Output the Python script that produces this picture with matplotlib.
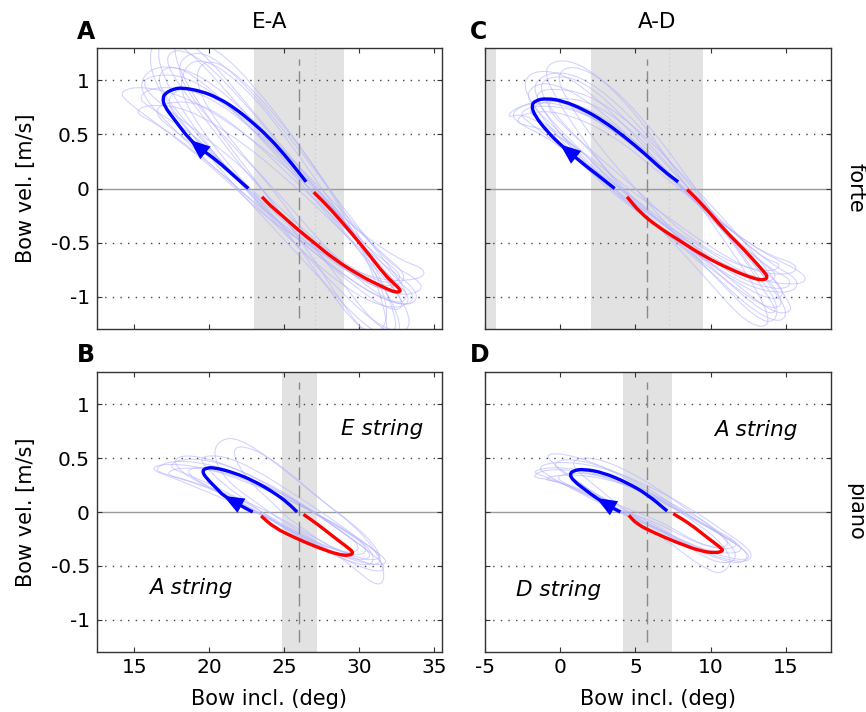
import matplotlib
matplotlib.use("Agg")
import matplotlib.pyplot as plt
from matplotlib.path import Path
from matplotlib.patches import PathPatch

plt.rcParams['font.family'] = ['DejaVu Sans']

# ---------------- data ----------------
yticks = [-1, -0.5, 0, 0.5, 1]
ytick_labels = ['-1', '-0.5', '0', '0.5', '1']
grid_levels = [-1, -0.5, 0.5, 1]
xticks_EA = [15, 20, 25, 30, 35]
xticks_AD = [-5, 0, 5, 10, 15]
xlim_EA = (12.5, 35.5)
xlim_AD = (-5, 18)
ylim = (-1.3, 1.3)

# shaded ranges, dashed (mean) and dotted positions
shade_A = [(23.0, 29.0)]
shade_C = [(-5.0, -4.3), (2.05, 9.5)]
shade_B = [(24.85, 27.2)]
shade_D = [(4.2, 7.4)]
dash_A, dot_A = 26.0, 27.05
dash_C, dot_C = 5.8, 7.2
dash_B = 26.0
dash_D = 5.8

# mean trajectories: blue (upper, with arrow) and red (lower)
blue_A = [(22.6, 0.0), (21.67, 0.114), (20.56, 0.253), (19.6, 0.35), (18.7, 0.45),
          (17.67, 0.639), (17.0, 0.762), (16.89, 0.84), (17.11, 0.886), (17.67, 0.923),
          (18.22, 0.932), (19.45, 0.901), (20.56, 0.84), (21.67, 0.747), (22.78, 0.623),
          (23.89, 0.485), (25.0, 0.315), (25.89, 0.16), (26.45, 0.062)]
red_A = [(26.96, -0.034), (28.11, -0.194), (29.45, -0.41), (30.56, -0.596), (31.67, -0.796),
         (32.3, -0.88), (32.65, -0.925), (32.75, -0.955), (32.33, -0.96), (31.45, -0.904), (30.11, -0.812),
         (28.34, -0.657), (27.0, -0.503), (25.89, -0.38), (24.78, -0.241), (24.11, -0.164),
         (23.51, -0.077)]
blue_C = [(3.62, 0.0), (2.44, 0.13), (1.6, 0.22), (0.75, 0.32), (0.0, 0.407),
          (-0.89, 0.531), (-1.67, 0.67), (-1.92, 0.762), (-1.67, 0.815), (-0.89, 0.835),
          (0.22, 0.809), (1.56, 0.731), (2.89, 0.623), (4.22, 0.485), (5.56, 0.33),
          (6.89, 0.16), (7.84, 0.062)]
red_C = [(8.44, -0.009), (9.56, -0.164), (10.89, -0.38), (12.22, -0.565), (13.22, -0.719),
         (13.6, -0.78), (13.8, -0.82), (13.56, -0.848), (12.89, -0.836), (11.33, -0.75), (9.56, -0.627),
         (8.0, -0.488), (6.44, -0.349), (5.33, -0.225), (4.44, -0.077)]
blue_B = [(22.89, 0.0), (22.2, 0.05), (20.95, 0.15), (20.56, 0.209), (19.78, 0.317),
          (19.52, 0.378), (19.78, 0.408), (20.34, 0.412), (21.67, 0.363), (23.0, 0.286),
          (24.33, 0.178), (25.22, 0.086), (25.85, 0.0)]
red_B = [(26.27, -0.022), (27.22, -0.114), (28.34, -0.237), (29.22, -0.329), (29.62, -0.375),
         (29.34, -0.405), (28.56, -0.394), (27.22, -0.329), (25.67, -0.237), (24.33, -0.145),
         (23.45, -0.037)]
blue_D = [(4.0, 0.0), (3.3, 0.05), (2.4, 0.13), (1.78, 0.194), (0.89, 0.287),
          (0.62, 0.349), (0.89, 0.385), (1.56, 0.398), (2.89, 0.364), (4.44, 0.272),
          (5.78, 0.164), (7.11, 0.009)]
red_D = [(7.51, -0.015), (8.67, -0.114), (9.78, -0.238), (10.67, -0.33), (10.85, -0.361),
         (10.33, -0.38), (9.33, -0.363), (7.78, -0.284), (6.22, -0.191), (5.11, -0.114),
         (4.56, -0.031)]
# index of the arrow tip on each blue curve (arrow direction from the first point)
arrow_idx = {'A': 4, 'B': 2, 'C': 4, 'D': 2}

# individual (faint) trajectories, closed loops
faint_A = [
    [(22.5, 0), (19.5, 0.45), (17.0, 0.85), (16.5, 1.05), (17.5, 1.15), (19.5, 1.0), (22.5, 0.6), (25.5, 0.15),
     (28.5, -0.35), (31.5, -0.8), (33.0, -1.05), (32.5, -1.15), (30.5, -1.0), (27.5, -0.65), (24.5, -0.3)],
    [(22, 0.05), (19, 0.55), (16.8, 1.05), (16.5, 1.35), (17.8, 1.45), (20, 1.2), (23, 0.7), (26, 0.2),
     (29, -0.3), (32, -0.85), (33.5, -1.2), (33, -1.35), (31, -1.25), (28, -0.85), (25, -0.4)],
    [(21, 0.1), (17.5, 0.5), (14.5, 0.8), (14.0, 0.9), (15.5, 0.95), (18.5, 0.85), (22, 0.55), (26, 0.1),
     (29.5, -0.35), (32.5, -0.65), (34.5, -0.75), (34, -0.85), (31, -0.85), (27.5, -0.6), (24, -0.3)],
    [(23, -0.05), (20.5, 0.35), (18.5, 0.75), (18, 1.0), (18.8, 1.2), (20.5, 1.15), (23, 0.85), (25.5, 0.4),
     (28, -0.1), (30.5, -0.6), (32, -1.1), (31.5, -1.35), (30, -1.3), (28, -0.95), (25.5, -0.45)],
    [(21.5, 0.15), (19, 0.5), (16, 0.75), (15.2, 0.85), (16.5, 0.95), (19.5, 0.9), (23, 0.55), (27, 0.0),
     (30, -0.45), (32.5, -0.85), (33.8, -1.0), (33, -1.1), (30.5, -0.95), (27, -0.6), (24, -0.25)],
    [(23.5, 0), (21, 0.45), (18.5, 0.95), (17.5, 1.3), (18.2, 1.4), (20.5, 1.3), (23, 0.95), (25.5, 0.5),
     (28, 0.0), (30, -0.5), (31.5, -1.0), (32, -1.4), (31, -1.45), (29, -1.1), (26.5, -0.55)],
    [(22, 0.1), (19.5, 0.4), (17.5, 0.7), (17.2, 0.85), (18.5, 0.95), (21, 0.8), (24, 0.4), (27, -0.05),
     (30, -0.5), (32, -0.8), (32.5, -0.9), (31.5, -0.95), (29, -0.75), (26, -0.4), (23.5, -0.1)],
    [(24, 0.05), (21.5, 0.4), (19, 0.8), (17.8, 1.1), (18.5, 1.25), (20, 1.25), (22.5, 0.95), (25.5, 0.45),
     (28.5, -0.1), (31, -0.55), (33, -0.9), (33.2, -1.05), (32, -1.05), (29.5, -0.8), (26.5, -0.35)],
    [(22.5, 0), (20, 0.3), (17.5, 0.55), (16.3, 0.7), (17, 0.8), (19.5, 0.8), (22.5, 0.5), (25.5, 0.1),
     (28.5, -0.3), (31.5, -0.7), (34, -0.95), (33.5, -1.1), (31, -1.0), (28, -0.7), (25, -0.3)],
    [(21.5, 0.05), (18.5, 0.55), (16.2, 1.0), (16.0, 1.3), (16.8, 1.4), (18.5, 1.3), (21.5, 0.85), (24.5, 0.35),
     (27.5, -0.15), (30.5, -0.65), (32.8, -1.2), (32.5, -1.4), (30.5, -1.3), (27.5, -0.85), (24.5, -0.4)],
    [(23, 0.1), (20, 0.45), (17, 0.75), (15.5, 0.95), (16, 1.05), (18.5, 1.05), (21.5, 0.75), (25, 0.3),
     (28.5, -0.2), (31.5, -0.6), (33.2, -0.8), (32.5, -0.92), (30, -0.85), (27, -0.55), (24.5, -0.2)],
    [(24.5, -0.05), (22, 0.35), (19.8, 0.75), (19, 1.05), (19.8, 1.2), (21.5, 1.1), (24, 0.75), (26.5, 0.3),
     (29, -0.2), (31, -0.7), (32.5, -1.2), (32.3, -1.35), (31, -1.25), (29, -0.9), (26.5, -0.45)],
    [(22, 0.0), (19, 0.35), (16.5, 0.6), (15.0, 0.7), (15.8, 0.78), (18.5, 0.75), (22, 0.45), (25.5, 0.05),
     (28.5, -0.35), (31.5, -0.75), (33.5, -1.0), (32.8, -1.12), (30.5, -1.05), (27.5, -0.75), (24.5, -0.35)],
    [(23, 0.05), (20.5, 0.5), (18, 0.95), (17, 1.2), (17.8, 1.3), (19.5, 1.2), (22, 0.85), (25, 0.35),
     (28, -0.15), (30.5, -0.55), (32.5, -0.75), (32.8, -0.85), (31.5, -0.88), (29, -0.7), (26, -0.35)],
    [(21, 0.1), (18, 0.5), (15.5, 0.85), (15.5, 1.05), (17, 1.15), (19.5, 1.05), (22.5, 0.7), (26, 0.2),
     (29.5, -0.3), (32, -0.7), (34, -0.85), (34.2, -0.95), (32.5, -1.0), (29.5, -0.8), (25, -0.35)],
]
faint_C = [
    [(3.5, 0), (0.5, 0.45), (-1.8, 0.75), (-2.3, 0.9), (-1.0, 1.0), (1.5, 0.85), (4.5, 0.5), (7.5, 0.1),
     (10.5, -0.35), (13.5, -0.75), (15.0, -0.95), (14.3, -1.05), (12, -0.9), (9, -0.6), (6, -0.3)],
    [(3, 0.05), (0, 0.5), (-2.5, 0.7), (-3.6, 0.65), (-3, 0.75), (-0.5, 0.85), (3, 0.6), (6.5, 0.2),
     (10, -0.25), (13.5, -0.6), (16.5, -0.8), (16, -0.9), (13, -0.85), (9.5, -0.55), (6, -0.25)],
    [(4, 0), (1.5, 0.45), (-0.8, 0.95), (-1, 1.15), (0.5, 1.2), (2.5, 1.05), (5, 0.7), (7.5, 0.2),
     (10, -0.3), (12.5, -0.8), (14, -1.2), (13.5, -1.3), (12, -1.2), (9.5, -0.8), (6.5, -0.35)],
    [(3, 0.1), (0.5, 0.35), (-2, 0.6), (-2.8, 0.7), (-1.5, 0.78), (1.5, 0.72), (5, 0.4), (8.5, -0.05),
     (11.5, -0.45), (14, -0.75), (15.5, -0.85), (14.8, -0.95), (12, -0.85), (9, -0.55), (6, -0.2)],
    [(4.5, -0.05), (2, 0.35), (-0.5, 0.7), (-1.5, 0.95), (-0.5, 1.05), (1.5, 1.0), (4, 0.7), (7, 0.25),
     (9.5, -0.15), (12, -0.6), (13.8, -1.0), (14.5, -1.15), (13.5, -1.15), (11, -0.85), (7.5, -0.4)],
    [(3.5, 0.05), (1, 0.4), (-1.5, 0.65), (-2.2, 0.72), (-1, 0.82), (1.5, 0.78), (4.5, 0.5), (8, 0.05),
     (11, -0.4), (13.5, -0.7), (14.5, -0.8), (13.8, -0.88), (11.5, -0.75), (8.5, -0.5), (5.5, -0.2)],
    [(2.5, 0.1), (0, 0.5), (-1.5, 0.8), (-1.8, 1.0), (0, 1.1), (2.5, 0.95), (5.5, 0.55), (8.5, 0.05),
     (11.5, -0.45), (14, -0.9), (15.2, -1.15), (14.5, -1.25), (12.5, -1.1), (9.5, -0.7), (5.5, -0.25)],
    [(5, 0), (2.5, 0.3), (0, 0.6), (-1, 0.78), (0, 0.85), (2.5, 0.78), (5.5, 0.45), (8.5, 0.0),
     (11.5, -0.4), (13.5, -0.65), (14.8, -0.7), (14, -0.78), (11.5, -0.7), (8.5, -0.45), (6.5, -0.2)],
    [(3, 0), (0, 0.45), (-2, 0.8), (-2.5, 1.0), (-1.5, 1.1), (0.5, 1.05), (3.5, 0.7), (6.5, 0.25),
     (9.5, -0.2), (12.5, -0.65), (14.5, -0.95), (14.8, -1.1), (13.5, -1.1), (10.5, -0.8), (6.5, -0.35)],
    [(4, 0.05), (1.5, 0.35), (-1, 0.55), (-3, 0.6), (-2.5, 0.7), (0, 0.72), (3.5, 0.5), (7, 0.1),
     (10.5, -0.3), (13.5, -0.6), (15.8, -0.7), (15.5, -0.8), (13, -0.78), (10, -0.55), (6.5, -0.2)],
    [(5, 0), (2.5, 0.4), (0.5, 0.8), (-0.3, 1.05), (0.8, 1.15), (3, 1.0), (5.5, 0.65), (8, 0.2),
     (10.5, -0.3), (12.8, -0.75), (14.5, -1.05), (14.3, -1.25), (13, -1.2), (10.5, -0.85), (7.5, -0.4)],
    [(2.5, 0.1), (-0.5, 0.45), (-2.8, 0.6), (-3.3, 0.7), (-2, 0.8), (0.5, 0.78), (4, 0.5), (7.5, 0.1),
     (11, -0.35), (14, -0.7), (16, -0.85), (15.3, -0.98), (12.5, -0.92), (9, -0.6), (5.5, -0.25)],
    [(4, 0.0), (1, 0.4), (-1.2, 0.72), (-1.7, 0.88), (-0.6, 0.93), (1.8, 0.88), (4.8, 0.6), (8, 0.15),
     (11, -0.3), (13.5, -0.7), (15, -1.0), (15.5, -1.15), (14, -1.15), (11, -0.8), (7, -0.35)],
]
faint_B = [
    [(23, 0.0), (20, 0.18), (17.5, 0.32), (16.0, 0.4), (17, 0.45), (19.5, 0.42), (22.5, 0.28), (25.5, 0.1),
     (28.5, -0.12), (31, -0.35), (32, -0.47), (31, -0.5), (28.5, -0.4), (26, -0.22), (24.5, -0.1)],
    [(23.5, 0.05), (21, 0.3), (20.2, 0.55), (20.8, 0.68), (22, 0.68), (24, 0.5), (26.5, 0.22), (28.5, 0.0),
     (30.2, -0.2), (31.5, -0.45), (31.7, -0.65), (31, -0.68), (29.5, -0.5), (27.5, -0.3), (25, -0.1)],
    [(22.5, 0.05), (20, 0.22), (18, 0.38), (17.6, 0.5), (18.8, 0.53), (21, 0.45), (24, 0.25), (27, 0.0),
     (29.5, -0.25), (30.8, -0.38), (30.5, -0.45), (29, -0.42), (27, -0.3), (25, -0.15), (23.5, -0.02)],
    [(24, 0.0), (21.5, 0.15), (18.5, 0.3), (17, 0.35), (18, 0.42), (21, 0.38), (24, 0.2), (27, 0.0),
     (29.5, -0.2), (31, -0.35), (31.5, -0.43), (30.5, -0.45), (28.5, -0.35), (26.5, -0.2), (25, -0.08)],
    [(23, 0.05), (21, 0.25), (19.5, 0.45), (19.5, 0.52), (21, 0.52), (23, 0.4), (25.5, 0.18), (28, -0.05),
     (30, -0.25), (31, -0.4), (30.8, -0.5), (29.5, -0.47), (27.5, -0.35), (25.5, -0.2), (24, -0.05)],
    [(22, 0.1), (19.5, 0.25), (17, 0.35), (16.3, 0.4), (17.5, 0.48), (20, 0.45), (23, 0.3), (26, 0.08),
     (28.5, -0.15), (30, -0.3), (29.8, -0.38), (28.5, -0.36), (26.5, -0.25), (24.5, -0.1), (23, 0.02)],
    [(23.5, 0.0), (21, 0.2), (18.5, 0.35), (17.2, 0.42), (18.2, 0.5), (20.5, 0.47), (23.5, 0.3), (26.5, 0.05),
     (29, -0.2), (31, -0.4), (31.8, -0.52), (31.2, -0.56), (29.5, -0.48), (27.5, -0.32), (25, -0.12)],
    [(22.8, 0.02), (20.5, 0.2), (18.8, 0.32), (18.5, 0.4), (19.8, 0.42), (22, 0.35), (24.5, 0.2), (27, 0.0),
     (29.3, -0.2), (30.5, -0.32), (30.3, -0.4), (29, -0.38), (27, -0.27), (25, -0.13), (23.8, -0.04)],
    [(24.5, 0.05), (22.5, 0.3), (21.5, 0.55), (22, 0.62), (23.5, 0.55), (25.5, 0.35), (27.5, 0.1), (29.5, -0.1),
     (31, -0.3), (31.5, -0.45), (31, -0.5), (29.5, -0.42), (27.5, -0.28), (26, -0.13), (25, -0.03)],
]
faint_D = [
    [(4, 0), (1.5, 0.18), (-0.5, 0.3), (-2.0, 0.32), (-1, 0.4), (1.5, 0.38), (4.5, 0.25), (7.5, 0.05),
     (10, -0.15), (12, -0.32), (12.7, -0.42), (12, -0.45), (10, -0.38), (8, -0.25), (5.5, -0.1)],
    [(3.5, 0.05), (1, 0.3), (-0.8, 0.48), (-0.8, 0.55), (1, 0.52), (3.5, 0.38), (6, 0.18), (8.5, -0.05),
     (10.5, -0.25), (11.5, -0.45), (10.8, -0.57), (10, -0.55), (8.5, -0.42), (7, -0.25), (5, -0.08)],
    [(4.5, 0.0), (2, 0.2), (0, 0.38), (-0.5, 0.45), (0.5, 0.5), (3, 0.42), (5.5, 0.25), (8, 0.02),
     (10.5, -0.2), (12.3, -0.35), (12.5, -0.45), (11.5, -0.48), (9.5, -0.38), (7.5, -0.22), (5.8, -0.08)],
    [(3, 0.1), (0.5, 0.25), (-1.5, 0.35), (-1.8, 0.38), (-0.5, 0.42), (2, 0.38), (5, 0.22), (8, 0.0),
     (10.5, -0.2), (12, -0.3), (12, -0.38), (10.5, -0.38), (8.5, -0.3), (6.5, -0.15), (4.5, -0.02)],
    [(4, 0.05), (2, 0.28), (0.8, 0.42), (1, 0.5), (2.5, 0.5), (5, 0.35), (7.5, 0.12), (9.5, -0.08),
     (11, -0.25), (11.8, -0.4), (11.3, -0.48), (10, -0.45), (8.5, -0.32), (6.8, -0.18), (5, -0.05)],
    [(5, 0.0), (2.5, 0.15), (0, 0.28), (-1.2, 0.3), (0, 0.35), (2.5, 0.33), (5.5, 0.2), (8, 0.02),
     (10, -0.15), (11.5, -0.25), (11.8, -0.32), (10.8, -0.35), (9, -0.28), (7.5, -0.15), (6, -0.05)],
    [(3.5, 0.02), (1, 0.2), (-1, 0.35), (-1.5, 0.42), (-0.2, 0.47), (2.5, 0.43), (5.5, 0.27), (8.5, 0.05),
     (10.8, -0.17), (12.5, -0.33), (12.8, -0.43), (12, -0.47), (10, -0.4), (7.8, -0.26), (5.5, -0.1)],
    [(4.2, 0.0), (2, 0.15), (0.2, 0.27), (-0.3, 0.33), (1, 0.37), (3.5, 0.32), (6, 0.18), (8.5, 0.0),
     (10.3, -0.15), (11.2, -0.27), (11, -0.33), (10, -0.33), (8.5, -0.25), (7, -0.14), (5.5, -0.05)],
]

string_labels_B = [('E string', 28.8, 0.71), ('A string', 16.0, -0.76)]
string_labels_D = [('A string', 10.2, 0.70), ('D string', -2.93, -0.78)]

# ---------------- figure ----------------
W, H = 866, 712
fig = plt.figure(figsize=(W / 100, H / 100), dpi=100)

def rect(l, t, r, b):
    return [l / W, 1 - b / H, (r - l) / W, (b - t) / H]

axA = fig.add_axes(rect(96.7, 48, 442, 329))
axC = fig.add_axes(rect(485, 48, 831, 329))
axB = fig.add_axes(rect(96.7, 371.7, 442, 652.3))
axD = fig.add_axes(rect(485, 371.7, 831, 652.3))

faint_col = (0.70, 0.70, 1.0)
tick_fs = 14.5


def mid(p, q):
    return ((p[0] + q[0]) / 2, (p[1] + q[1]) / 2)


def smooth_loop(ax, loop, **kw):
    """Closed loop rendered as quadratic Bezier segments with the points as control polygon."""
    n = len(loop)
    mids = [mid(loop[i], loop[(i + 1) % n]) for i in range(n)]
    verts = [mids[-1]]
    codes = [Path.MOVETO]
    for i in range(n):
        verts += [loop[i], mids[i]]
        codes += [Path.CURVE3, Path.CURVE3]
    ax.add_patch(PathPatch(Path(verts, codes), fill=False, **kw))


def smooth_open(ax, pts, **kw):
    """Open curve rendered as quadratic Bezier segments, keeping both end points."""
    n = len(pts)
    verts = [pts[0], mid(pts[0], pts[1])]
    codes = [Path.MOVETO, Path.LINETO]
    for i in range(1, n - 1):
        verts += [pts[i], mid(pts[i], pts[i + 1])]
        codes += [Path.CURVE3, Path.CURVE3]
    verts.append(pts[-1])
    codes.append(Path.LINETO)
    ax.add_patch(PathPatch(Path(verts, codes), fill=False, capstyle='butt', joinstyle='round', **kw))


def draw(ax, xlim, xticks, shades, dash, dot, faint, blue, red, key, show_xlabels, show_ylabels):
    ax.set_xlim(*xlim)
    ax.set_ylim(*ylim)
    for a, b in shades:
        ax.axvspan(a, b, color='#e2e2e2', lw=0, zorder=0)
    for g in grid_levels:
        ax.axhline(g, color='#444444', lw=1.0, ls=(0, (1, 4.5)), zorder=1)
    ax.axhline(0, color='#9a9a9a', lw=1.0, zorder=1)
    if dot is not None:
        ax.plot([dot, dot], [-1.3, 1.3], color='#cfcfcf', lw=1.0, ls=(0, (1, 2)), zorder=1)
    for loop in faint:
        smooth_loop(ax, loop, edgecolor=faint_col, lw=0.75, alpha=0.6, zorder=2)
    ax.plot([dash, dash], [-1.2, 1.2], color='#8a8a8a', lw=1.0, ls=(0, (9, 4)), zorder=3)
    smooth_open(ax, blue, edgecolor='#0000ff', lw=2.4, zorder=4)
    smooth_open(ax, red, edgecolor='#ff0000', lw=2.4, zorder=4)
    i = arrow_idx[key]
    ax.annotate('', xy=blue[i], xytext=blue[0],
                arrowprops=dict(arrowstyle='-|>,head_length=1.05,head_width=0.42',
                                mutation_scale=14, color='#0000ff', lw=0,
                                shrinkA=0, shrinkB=0), zorder=5)
    ax.set_xticks(xticks)
    ax.set_yticks(yticks)
    ax.tick_params(direction='in', length=3.5, width=0.8, top=True, right=True,
                   labelsize=tick_fs, color='#333333', pad=5)
    ax.tick_params(axis='x', pad=4)
    if show_xlabels:
        ax.set_xticklabels([str(t) for t in xticks])
    else:
        ax.set_xticklabels([])
    if show_ylabels:
        ax.set_yticklabels(ytick_labels)
    else:
        ax.set_yticklabels([])
    for s in ax.spines.values():
        s.set_color('#333333')
        s.set_linewidth(1.0)
        s.set_zorder(6)

draw(axA, xlim_EA, xticks_EA, shade_A, dash_A, dot_A, faint_A, blue_A, red_A, 'A', False, True)
draw(axC, xlim_AD, xticks_AD, shade_C, dash_C, dot_C, faint_C, blue_C, red_C, 'C', False, False)
draw(axB, xlim_EA, xticks_EA, shade_B, dash_B, None, faint_B, blue_B, red_B, 'B', True, True)
draw(axD, xlim_AD, xticks_AD, shade_D, dash_D, None, faint_D, blue_D, red_D, 'D', True, False)

for txt, x, y in string_labels_B:
    axB.text(x, y, txt, fontsize=15.5, style='italic', ha='left', va='baseline', zorder=7)
for txt, x, y in string_labels_D:
    axD.text(x, y, txt, fontsize=15.5, style='italic', ha='left', va='baseline', zorder=7)

# titles, panel letters, side labels, axis labels
fig.text(269.3 / W, 1 - 28.3 / H, 'E-A', fontsize=15.5, ha='center', va='baseline')
fig.text(657 / W, 1 - 28.3 / H, 'A-D', fontsize=15.5, ha='center', va='baseline')
fig.text(76.7 / W, 1 - 39.3 / H, 'A', fontsize=17, fontweight='bold', ha='left', va='baseline')
fig.text(470 / W, 1 - 39.3 / H, 'C', fontsize=17, fontweight='bold', ha='left', va='baseline')
fig.text(76.7 / W, 1 - 361.7 / H, 'B', fontsize=17, fontweight='bold', ha='left', va='baseline')
fig.text(470 / W, 1 - 361.7 / H, 'D', fontsize=17, fontweight='bold', ha='left', va='baseline')
fig.text(856 / W, 1 - 188 / H, 'forte', fontsize=15, rotation=-90, ha='center', va='center')
fig.text(855 / W, 1 - 512 / H, 'piano', fontsize=15, rotation=-90, ha='center', va='center')
fig.text(26 / W, 1 - 188.5 / H, 'Bow vel. [m/s]', fontsize=15, rotation=90, ha='center', va='center')
fig.text(26 / W, 1 - 512 / H, 'Bow vel. [m/s]', fontsize=15, rotation=90, ha='center', va='center')
fig.text(269.3 / W, 1 - 705.3 / H, 'Bow incl. (deg)', fontsize=15, ha='center', va='baseline')
fig.text(658 / W, 1 - 705.3 / H, 'Bow incl. (deg)', fontsize=15, ha='center', va='baseline')

fig.savefig('out.png', dpi=100)
